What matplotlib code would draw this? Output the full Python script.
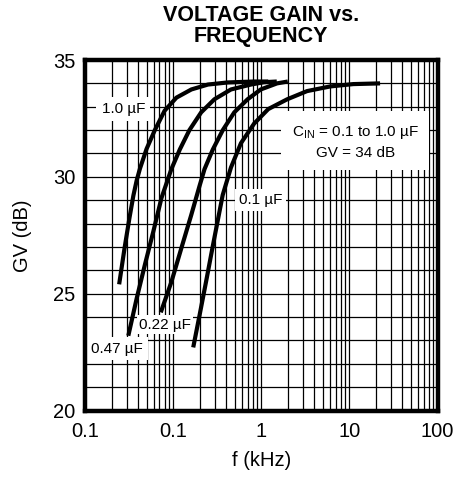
import numpy as np
import matplotlib.pyplot as plt
from matplotlib.ticker import LogLocator, FixedLocator, NullFormatter

plt.rcParams['font.family'] = ['Liberation Sans', 'DejaVu Sans']

# curves (f in kHz, GV in dB)
f_10 = [0.0244, 0.0281, 0.0319, 0.0354, 0.0386, 0.042, 0.05, 0.062, 0.08, 0.109, 0.161, 0.248, 0.416, 0.82, 1.2]
gv_10 = [25.4, 26.95, 28.23, 29.2, 29.85, 30.35, 31.2, 32.0, 32.83, 33.39, 33.74, 33.95, 34.04, 34.08, 34.08]

f_047 = [0.031, 0.0386, 0.0479, 0.0595, 0.0738, 0.0955, 0.119, 0.153, 0.208, 0.294, 0.453, 0.762, 1.07, 1.5]
gv_047 = [23.2, 24.8, 26.25, 27.65, 29.1, 30.33, 31.17, 32.0, 32.76, 33.32, 33.74, 33.95, 34.05, 34.08]

f_022 = [0.0724, 0.0955, 0.124, 0.16, 0.199, 0.227, 0.282, 0.366, 0.494, 0.70, 0.987, 1.51, 2.0]
gv_022 = [24.2, 25.5, 26.95, 28.35, 29.6, 30.33, 31.17, 32.0, 32.76, 33.32, 33.74, 34.0, 34.08]

f_01 = [0.169, 0.2, 0.236, 0.279, 0.33, 0.365, 0.453, 0.588, 0.83, 1.2, 1.97, 3.31, 6.07, 11.1, 22.3]
gv_01 = [22.7, 24.1, 25.5, 26.95, 28.37, 29.22, 30.4, 31.44, 32.28, 32.9, 33.32, 33.67, 33.87, 33.97, 34.0]

x_ticks = [0.01, 0.1, 1, 10, 100]
x_ticklabels = ["0.1", "0.1", "1", "10", "100"]   # as printed on the original
y_ticks = [20, 25, 30, 35]

fig = plt.figure(figsize=(4.59, 4.79), dpi=100)
ax = fig.add_axes([0.1852, 0.143, 0.768, 0.7317])

ax.set_xscale("log")
ax.set_xlim(0.01, 100)
ax.set_ylim(20, 35)

ax.xaxis.set_major_locator(FixedLocator(x_ticks))
ax.set_xticklabels(x_ticklabels)
ax.xaxis.set_minor_locator(LogLocator(base=10, subs=np.arange(2, 10)))
ax.xaxis.set_minor_formatter(NullFormatter())
ax.set_yticks(y_ticks)
ax.yaxis.set_minor_locator(FixedLocator(np.arange(20, 36, 1)))

ax.grid(True, which="both", color="black", linewidth=0.9)
ax.set_axisbelow(True)
ax.tick_params(which="both", length=0, labelsize=14.5)
ax.tick_params(axis="y", pad=7)
ax.tick_params(axis="x", pad=8.5)

for sp in ax.spines.values():
    sp.set_linewidth(3.2)

for f, gv in [(f_10, gv_10), (f_047, gv_047), (f_022, gv_022), (f_01, gv_01)]:
    ax.plot(f, gv, color="black", linewidth=3, solid_capstyle="butt",
            solid_joinstyle="round", zorder=3)

lbl = dict(fontsize=11, ha="center", va="center", zorder=2)
ax.text(0.0273, 32.9, "1.0 µF", bbox=dict(boxstyle="square,pad=0.35", fc="white", ec="none"), **lbl)
ax.text(0.99, 29.0, "0.1 µF", bbox=dict(boxstyle="square,pad=0.25", fc="white", ec="none"), **lbl)
ax.text(0.0807, 23.67, "0.22 µF", bbox=dict(boxstyle="square,pad=0.15", fc="white", ec="none"), **lbl)
ax.text(0.0232, 22.65, "0.47 µF", bbox=dict(boxstyle="square,pad=0.3", fc="white", ec="none"), **lbl)
ax.text(11.6, 31.5, "C$_{\\mathregular{IN}}$ = 0.1 to 1.0 µF\nGV = 34 dB", linespacing=1.45,
        bbox=dict(boxstyle="square,pad=0.7", fc="white", ec="none"), **lbl)

ax.set_title("VOLTAGE GAIN vs.\nFREQUENCY", fontsize=15.5, fontweight="bold",
             linespacing=1.0, pad=13)
ax.set_xlabel("f (kHz)", fontsize=14.5)
ax.set_ylabel("GV (dB)", fontsize=14.5)
ax.xaxis.set_label_coords(0.5, -0.115)
ax.yaxis.set_label_coords(-0.15, 0.5)

fig.savefig("out.png", dpi=100)
